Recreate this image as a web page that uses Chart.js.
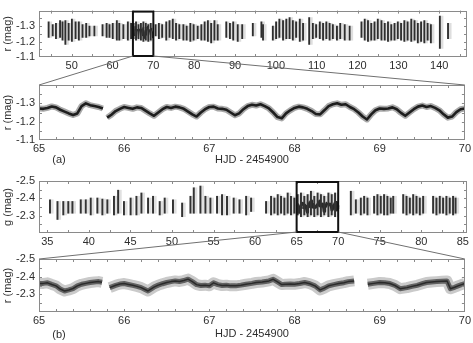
<!DOCTYPE html>
<html><head><meta charset="utf-8">
<script src="https://cdn.jsdelivr.net/npm/chart.js@4/dist/chart.umd.min.js"></script>
<style>
html,body{margin:0;padding:0;background:#fff;}
#wrap{position:relative;width:473px;height:343px;overflow:hidden;background:#fff;}
canvas{position:absolute;left:0;top:0;}
</style></head><body>
<div id="wrap">
<canvas id="c1" width="473" height="343"></canvas>
<canvas id="c2" width="473" height="343"></canvas>
<canvas id="c3" width="473" height="343"></canvas>
<canvas id="c4" width="473" height="343"></canvas>
</div>
<script>
// ---------- DATA ----------
const zoomRange = [65, 70];

// Panel (a) overview: nightly r-band streaks (day, brightest mag, faintest mag)
const rNightDay = [44.5,45.5,46.3,47.3,47.9,48.6,49.4,50.2,51.1,51.9,52.8,53.7,54.5,55.7,57.7,58.7,59.4,60.2,61.2,61.8,62.8,63.9,64.7,
  65.3,65.9,66.5,67.1,67.7,68.3,68.9,69.5,
  70.7,71.5,72.3,73.3,74.1,74.9,75.7,76.5,77.5,78.3,79.2,80.0,81.0,81.9,82.7,83.5,84.3,85.1,85.9,
  88.0,88.9,89.7,90.8,91.9,94.5,96.6,97.0,
  99.4,100.2,101.0,101.9,102.7,103.5,104.3,105.1,106.0,106.8,108.3,109.2,110.0,110.9,111.7,112.5,113.3,114.1,115.1,115.9,117.0,118.2,
  121.1,121.9,122.7,123.5,124.3,125.1,126.0,126.8,127.6,128.4,129.2,130.0,130.8,131.6,132.4,133.3,134.1,134.9,135.7,136.5,137.3,138.1,140.3,142.3];
const rNightHi = [-1.327,-1.309,-1.318,-1.336,-1.327,-1.336,-1.318,-1.345,-1.327,-1.327,-1.309,-1.318,-1.300,-1.300,-1.309,-1.318,-1.309,-1.318,-1.336,-1.318,-1.309,-1.327,-1.318,
  -1.318,-1.327,-1.309,-1.318,-1.327,-1.318,-1.309,-1.318,
  -1.309,-1.318,-1.309,-1.327,-1.336,-1.345,-1.318,-1.309,-1.309,-1.300,-1.318,-1.309,-1.300,-1.309,-1.327,-1.336,-1.318,-1.336,-1.309,
  -1.327,-1.318,-1.327,-1.309,-1.309,-1.318,-1.327,-1.309,
  -1.300,-1.327,-1.345,-1.336,-1.345,-1.355,-1.336,-1.327,-1.345,-1.318,-1.355,-1.318,-1.309,-1.327,-1.318,-1.327,-1.318,-1.309,-1.300,-1.318,-1.309,-1.300,
  -1.327,-1.345,-1.336,-1.318,-1.327,-1.345,-1.336,-1.318,-1.327,-1.309,-1.318,-1.327,-1.318,-1.336,-1.327,-1.345,-1.336,-1.318,-1.327,-1.336,-1.318,-1.309,-1.364,-1.318];
const rNightLo = [-1.227,-1.236,-1.218,-1.227,-1.209,-1.182,-1.209,-1.200,-1.218,-1.209,-1.227,-1.227,-1.236,-1.236,-1.236,-1.227,-1.227,-1.218,-1.209,-1.209,-1.218,-1.209,-1.218,
  -1.218,-1.209,-1.218,-1.209,-1.200,-1.209,-1.200,-1.209,
  -1.236,-1.218,-1.227,-1.209,-1.227,-1.218,-1.209,-1.218,-1.209,-1.209,-1.200,-1.209,-1.218,-1.209,-1.209,-1.200,-1.191,-1.209,-1.209,
  -1.227,-1.218,-1.209,-1.200,-1.218,-1.236,-1.227,-1.209,
  -1.209,-1.218,-1.227,-1.209,-1.218,-1.218,-1.209,-1.227,-1.200,-1.209,-1.182,-1.218,-1.227,-1.218,-1.209,-1.218,-1.209,-1.218,-1.209,-1.218,-1.209,-1.209,
  -1.227,-1.209,-1.200,-1.209,-1.209,-1.218,-1.209,-1.209,-1.200,-1.209,-1.209,-1.218,-1.209,-1.200,-1.209,-1.200,-1.209,-1.191,-1.200,-1.191,-1.209,-1.191,-1.155,-1.218];

// Panel (a) zoom: r light curve HJD 65-70 (null = gap)
const rZoomDay = [65.00,65.05,65.10,65.15,65.20,65.25,65.30,65.35,65.40,65.45,65.50,65.55,65.60,65.65,65.70,65.75,65.78,
  65.80,65.85,65.90,65.95,66.00,66.05,66.10,66.15,66.20,66.25,66.30,66.35,66.40,66.45,66.50,66.55,66.60,66.65,66.70,66.75,66.80,66.85,66.90,66.95,
  67.00,67.05,67.10,67.15,67.20,67.25,67.30,67.35,67.40,67.45,67.50,67.55,67.60,67.65,67.70,67.75,67.80,67.85,67.90,67.95,
  68.00,68.05,68.10,68.15,68.20,68.25,68.30,68.35,68.40,68.45,68.50,68.55,68.60,68.65,68.70,68.75,68.80,68.85,68.90,68.95,
  69.00,69.05,69.10,69.15,69.20,69.25,69.30,69.35,69.40,69.45,69.50,69.55,69.60,69.65,69.70,69.75,69.80,69.85,69.90,69.95,70.00];
const rZoomMag = [-1.272,-1.270,-1.275,-1.283,-1.278,-1.265,-1.255,-1.245,-1.236,-1.245,-1.285,-1.300,-1.290,-1.285,-1.280,-1.272,null,
  -1.222,-1.238,-1.258,-1.270,-1.280,-1.275,-1.270,-1.278,-1.275,-1.260,-1.245,-1.232,-1.250,-1.268,-1.280,-1.275,-1.282,-1.278,-1.270,-1.255,-1.240,-1.228,-1.250,-1.268,
  -1.280,-1.282,-1.272,-1.270,-1.265,-1.250,-1.235,-1.245,-1.268,-1.285,-1.292,-1.288,-1.295,-1.285,-1.272,-1.250,-1.225,-1.218,-1.245,-1.262,
  -1.275,-1.282,-1.278,-1.270,-1.258,-1.242,-1.240,-1.262,-1.285,-1.295,-1.300,-1.292,-1.295,-1.280,-1.268,-1.250,-1.228,-1.212,-1.240,-1.262,
  -1.272,-1.270,-1.272,-1.278,-1.268,-1.248,-1.232,-1.250,-1.268,-1.282,-1.288,-1.280,-1.285,-1.275,-1.262,-1.240,-1.222,-1.228,-1.252,-1.268,-1.272];

// Panel (b) overview: nightly g-band streaks
const gNightDay = [35.4,36.3,37.0,37.6,38.1,39.1,39.7,40.3,41.1,41.7,42.3,43.1,43.6,44.3,45.1,45.8,46.4,47.2,47.8,48.6,49.2,50.2,51.3,52.3,52.7,53.5,54.1,54.7,55.5,56.1,56.7,57.5,58.2,59.0,59.6,
  61.4,62.0,62.4,62.8,63.2,63.6,64.0,64.4,64.8,
  65.2,65.6,66.0,66.4,66.8,67.2,67.6,68.0,68.4,68.9,69.3,69.7,
  71.6,72.2,72.8,73.2,73.6,74.4,74.8,75.2,75.6,76.0,76.4,76.7,77.9,78.3,78.7,79.1,79.5,79.9,80.3,81.5,81.9,82.3,82.7,83.1,83.5,83.9,84.2];
const gNightHi = [-2.392,-2.382,-2.382,-2.382,-2.382,-2.392,-2.392,-2.402,-2.402,-2.396,-2.392,-2.412,-2.447,-2.382,-2.402,-2.412,-2.431,-2.402,-2.412,-2.382,-2.402,-2.392,-2.373,-2.412,-2.461,-2.471,-2.412,-2.402,-2.412,-2.422,-2.412,-2.402,-2.392,-2.412,-2.402,
  -2.382,-2.412,-2.402,-2.422,-2.412,-2.402,-2.431,-2.412,-2.402,
  -2.422,-2.431,-2.412,-2.422,-2.441,-2.412,-2.431,-2.422,-2.412,-2.431,-2.422,-2.431,
  -2.441,-2.392,-2.402,-2.412,-2.402,-2.412,-2.422,-2.412,-2.422,-2.412,-2.402,-2.412,-2.422,-2.412,-2.402,-2.422,-2.412,-2.402,-2.412,-2.412,-2.402,-2.412,-2.402,-2.412,-2.402,-2.412,-2.402];
const gNightLo = [-2.314,-2.278,-2.304,-2.314,-2.314,-2.314,-2.314,-2.304,-2.314,-2.304,-2.314,-2.304,-2.314,-2.304,-2.304,-2.304,-2.314,-2.314,-2.314,-2.304,-2.314,-2.314,-2.294,-2.314,-2.314,-2.314,-2.314,-2.314,-2.314,-2.304,-2.304,-2.314,-2.314,-2.304,-2.324,
  -2.314,-2.304,-2.314,-2.304,-2.314,-2.304,-2.314,-2.304,-2.314,
  -2.304,-2.294,-2.304,-2.294,-2.304,-2.294,-2.304,-2.294,-2.304,-2.294,-2.304,-2.294,
  -2.304,-2.314,-2.304,-2.314,-2.304,-2.314,-2.304,-2.314,-2.304,-2.304,-2.314,-2.314,-2.314,-2.304,-2.314,-2.304,-2.314,-2.304,-2.314,-2.314,-2.304,-2.314,-2.314,-2.304,-2.314,-2.304,-2.314];

// Panel (b) zoom: light curve HJD 65-70 (null = gap)
const gZoomDay = [65.00,65.05,65.10,65.15,65.20,65.25,65.30,65.35,65.40,65.45,65.50,65.55,65.60,65.65,65.70,65.74,65.78,
  65.83,65.90,65.95,66.00,66.05,66.10,66.15,66.20,66.25,66.28,66.35,66.40,66.45,66.50,66.55,66.60,66.65,66.70,66.75,66.80,66.85,66.90,66.95,
  67.00,67.05,67.10,67.15,67.20,67.25,67.31,67.37,67.43,67.50,67.55,67.62,67.70,67.75,67.80,67.85,67.89,67.95,
  68.00,68.06,68.12,68.18,68.24,68.30,68.35,68.40,68.46,68.52,68.58,68.63,68.70,68.78,
  68.86,68.93,69.00,69.06,69.12,69.18,69.24,69.32,69.38,69.44,69.50,69.55,69.61,69.67,69.73,69.79,69.83,69.88,69.92,69.96,70.00];
const gZoomMag = [-2.361,-2.362,-2.365,-2.356,-2.348,-2.330,-2.319,-2.325,-2.333,-2.348,-2.357,-2.362,-2.367,-2.370,-2.372,-2.368,null,
  -2.338,-2.351,-2.358,-2.361,-2.356,-2.351,-2.345,-2.338,-2.326,-2.319,-2.341,-2.352,-2.360,-2.367,-2.372,-2.376,-2.373,-2.378,-2.386,-2.372,-2.355,-2.350,-2.352,
  -2.348,-2.365,-2.355,-2.350,-2.352,-2.348,-2.348,-2.352,-2.357,-2.362,-2.367,-2.370,-2.376,-2.385,-2.370,-2.355,-2.357,-2.358,
  -2.357,-2.361,-2.367,-2.360,-2.348,-2.325,-2.335,-2.348,-2.355,-2.361,-2.366,-2.372,-2.376,null,
  -2.357,-2.362,-2.367,-2.365,-2.361,-2.350,-2.332,-2.338,-2.345,-2.351,-2.360,-2.367,-2.370,-2.372,-2.374,-2.376,-2.332,-2.340,-2.348,-2.355,-2.361];

// Axis tick values and labels
const p1XTicks = [45,50,55,60,65,70,75,80,85,90,95,100,105,110,115,120,125,130,135,140,145];
const p1XLabels = [50,60,70,80,90,100,110,120,130,140];
const zXTicks = [65.2,65.4,65.6,65.8,66,66.2,66.4,66.6,66.8,67,67.2,67.4,67.6,67.8,68,68.2,68.4,68.6,68.8,69,69.2,69.4,69.6,69.8,65,70];
const zXLabels = [65,66,67,68,69,70];
const p3XTicks = [35,37.5,40,42.5,45,47.5,50,52.5,55,57.5,60,62.5,65,67.5,70,72.5,75,77.5,80,82.5,85];
const p3XLabels = [35,40,45,50,55,60,65,70,75,80,85];
const rYTicks = [-1.4,-1.35,-1.3,-1.25,-1.2,-1.15,-1.1];
const rYLabels = [-1.3,-1.2,-1.1];
const gYTicks = [-2.5,-2.45,-2.4,-2.35,-2.3,-2.25,-2.2];
const gYLabels = [-2.5,-2.4,-2.3];

// ---------- RENDER ----------
const FONT = "'Liberation Sans', Arial, sans-serif";
const TXT = '#2e2e2e';
const L = 39, R = 467;
const charts = {};

function has(list, v){ return list.some(l => Math.abs(l - v) < 1e-6); }
function pts(xs, ys){ return xs.map((x,i)=>({x:x, y:ys[i]})); }
function bars(xs, hi, lo){ return xs.map((x,i)=>({x:x, y:[hi[i], lo[i]]})); }

function panel(id, o){
  const frame = {
    id:'frame',
    afterDatasetsDraw(c){
      const ctx=c.ctx, a=c.chartArea, xs=c.scales.x, ys=c.scales.y;
      ctx.save();
      ctx.strokeStyle='#8a8a8a'; ctx.lineWidth=1;
      ctx.beginPath();
      xs.ticks.forEach(t=>{ const p=Math.round(xs.getPixelForValue(t.value))+0.5;
        if (p < a.left+2 || p > a.right-2) return;
        ctx.moveTo(p,a.bottom); ctx.lineTo(p,a.bottom-3); ctx.moveTo(p,a.top); ctx.lineTo(p,a.top+3); });
      ys.ticks.forEach(t=>{ const p=Math.round(ys.getPixelForValue(t.value))+0.5;
        if (p < a.top+2 || p > a.bottom-2) return;
        ctx.moveTo(a.left,p); ctx.lineTo(a.left+3,p); ctx.moveTo(a.right,p); ctx.lineTo(a.right-3,p); });
      ctx.stroke();
      ctx.strokeRect(Math.round(a.left)+0.5, Math.round(a.top)+0.5, Math.round(a.right-a.left)-1, Math.round(a.bottom-a.top)-1);
      ctx.restore();
    },
    afterDraw(c){ if (o.extra) o.extra(c); }
  };
  const xTitle = o.xTitle ? {display:true, text:o.xTitle, color:TXT, font:{family:FONT,size:11}, padding:{top:0,bottom:0}} : {display:false};
  return new Chart(document.getElementById(id), {
    type: o.type,
    data: {datasets: o.datasets},
    options: {
      responsive:false, animation:false, devicePixelRatio:1, events:[],
      layout:{padding:{left:0, right:473-R, top:o.top, bottom:343-o.bottom-o.xH}},
      plugins:{legend:{display:false}, tooltip:{enabled:false}},
      scales:{
        x:{type:'linear', min:o.xMin, max:o.xMax, offset:false,
          afterBuildTicks: s => { s.ticks = o.xTicks.map(v=>({value:v})); },
          afterFit: s => { s.height = o.xH; },
          grid:{display:false, drawTicks:false}, border:{display:false},
          ticks:{autoSkip:false, maxRotation:0, minRotation:0, padding:2, color:TXT, font:{family:FONT,size:11},
            callback: v => has(o.xLabels, v) ? String(Math.round(v)) : ''},
          title: xTitle},
        y:{type:'linear', reverse:true, min:o.yMin, max:o.yMax, beginAtZero:false,
          afterBuildTicks: s => { s.ticks = o.yTicks.map(v=>({value:v})); },
          afterFit: s => { s.width = L; },
          grid:{display:false, drawTicks:false}, border:{display:false},
          ticks:{autoSkip:false, padding:4, color:TXT, font:{family:FONT,size:11},
            callback: v => has(o.yLabels, v) ? Number(v).toFixed(1) : ''},
          title:{display:true, text:o.yTitle, color:TXT, font:{family:FONT,size:11}, padding:{top:1,bottom:0}}}
      }
    },
    plugins:[frame]
  });
}

function drawBox(c){
  const ctx=c.ctx, a=c.chartArea, xs=c.scales.x;
  const x0=xs.getPixelForValue(zoomRange[0]), x1=xs.getPixelForValue(zoomRange[1]);
  ctx.save(); ctx.strokeStyle='#111'; ctx.lineWidth=2;
  ctx.strokeRect(x0, a.top+1, x1-x0, a.bottom-a.top-2);
  ctx.restore();
}
function drawConnectors(c, src){
  const ctx=c.ctx, a=c.chartArea, xs=src.scales.x, b=src.chartArea.bottom-1;
  ctx.save(); ctx.strokeStyle='#707070'; ctx.lineWidth=1;
  ctx.beginPath();
  ctx.moveTo(xs.getPixelForValue(zoomRange[0]), b); ctx.lineTo(a.left, a.top);
  ctx.moveTo(xs.getPixelForValue(zoomRange[1]), b); ctx.lineTo(a.right, a.top);
  ctx.stroke(); ctx.restore();
}
function label(c, t, y){
  const ctx=c.ctx; ctx.save(); ctx.fillStyle=TXT; ctx.font="11px "+FONT;
  ctx.textAlign='center'; ctx.textBaseline='middle'; ctx.fillText(t, 59, y); ctx.restore();
}

// Note: Chart.js draws earlier datasets on top, so dark layers are listed first.
charts.p1 = panel('c1', {
  type:'bar', top:2, bottom:57, xH:16, xMin:42, xMax:146.8, yMin:-1.4, yMax:-1.1,
  xTicks:p1XTicks, xLabels:p1XLabels, yTicks:rYTicks, yLabels:rYLabels, yTitle:'r (mag)',
  datasets:[
    {type:'bar', data:bars(rNightDay, rNightHi, rNightLo), backgroundColor:'#2e2e2e', barThickness:1.2},
    {type:'line', data:pts(rZoomDay, rZoomMag), borderColor:'#333', borderWidth:1, borderJoinStyle:'round', pointRadius:0, spanGaps:false},
    {type:'bar', data:bars(rNightDay, rNightHi, rNightLo), backgroundColor:'#dedede', barThickness:2.6}
  ],
  extra: drawBox
});
charts.p2 = panel('c2', {
  type:'line', top:85, bottom:140, xH:26.6, xMin:65, xMax:70, yMin:-1.4, yMax:-1.1,
  xTicks:zXTicks, xLabels:zXLabels, yTicks:rYTicks, yLabels:rYLabels, yTitle:'r (mag)', xTitle:'HJD - 2454900',
  datasets:[
    {data:pts(rZoomDay, rZoomMag), borderColor:'#1e1e1e', borderWidth:2.6, borderJoinStyle:'round', pointRadius:0, spanGaps:false},
    {data:pts(rZoomDay, rZoomMag), borderColor:'#a8a8a8', borderWidth:6, borderJoinStyle:'round', pointRadius:0, spanGaps:false}
  ],
  extra: c => { drawConnectors(c, charts.p1); label(c, '(a)', 160); }
});
charts.p3 = panel('c3', {
  type:'bar', top:181, bottom:233, xH:16, xMin:34, xMax:85.5, yMin:-2.5, yMax:-2.2,
  xTicks:p3XTicks, xLabels:p3XLabels, yTicks:gYTicks, yLabels:gYLabels, yTitle:'g (mag)',
  datasets:[
    {type:'bar', data:bars(gNightDay, gNightHi, gNightLo), backgroundColor:'#333', barThickness:1.3},
    {type:'line', data:pts(gZoomDay, gZoomMag), borderColor:'#2a2a2a', borderWidth:3, borderJoinStyle:'round', pointRadius:0, spanGaps:false},
    {type:'bar', data:bars(gNightDay, gNightHi, gNightLo), backgroundColor:'#e0e0e0', barThickness:2.6}
  ],
  extra: drawBox
});
charts.p4 = panel('c4', {
  type:'line', top:259, bottom:312, xH:28.6, xMin:65, xMax:70, yMin:-2.5, yMax:-2.2,
  xTicks:zXTicks, xLabels:zXLabels, yTicks:gYTicks, yLabels:gYLabels, yTitle:'r (mag)', xTitle:'HJD - 2454900',
  datasets:[
    {data:pts(gZoomDay, gZoomMag), borderColor:'#2a2a2a', borderWidth:1.5, borderJoinStyle:'round', pointRadius:0, spanGaps:false},
    {data:pts(gZoomDay, gZoomMag), borderColor:'#626262', borderWidth:5, borderJoinStyle:'round', pointRadius:0, spanGaps:false},
    {data:pts(gZoomDay, gZoomMag), borderColor:'#cacaca', borderWidth:11, borderJoinStyle:'round', pointRadius:0, spanGaps:false}
  ],
  extra: c => { drawConnectors(c, charts.p3); label(c, '(b)', 335); }
});
</script>
</body></html>
